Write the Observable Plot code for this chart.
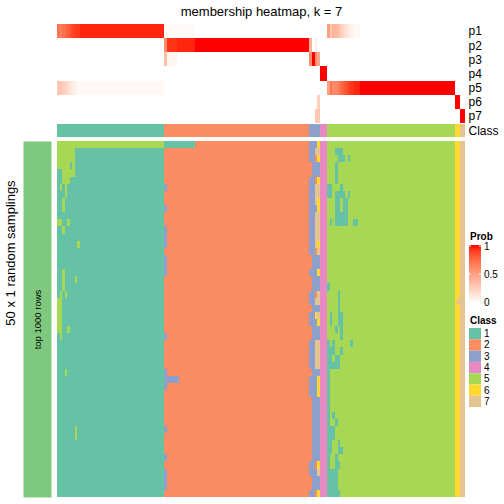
<!DOCTYPE html>
<html><head><meta charset="utf-8">
<script src="https://cdn.jsdelivr.net/npm/d3@7"></script>
<script src="https://cdn.jsdelivr.net/npm/@observablehq/plot@0.6"></script>
<style>
body{margin:0;background:#fff;}
#chart{position:relative;width:504px;height:504px;overflow:hidden;font-family:"Liberation Sans",Arial,Helvetica,sans-serif;background:#fff;}
</style></head><body><div id="chart"></div>
<script>
// ---------- data ----------
const title = "membership heatmap, k = 7";
const classLabels = [1, 2, 3, 4, 5, 6, 7];
const classColors = ["#66C2A5", "#FC8D62", "#8DA0CB", "#E78AC3", "#A6D854", "#FFD92F", "#E5C494"];
const classSizes = [42, 57, 4, 3, 50, 2, 2];           // columns per consensus class
const probRowNames = ["p1", "p2", "p3", "p4", "p5", "p6", "p7"];
// membership probability runs: [firstColumn, lastColumn, probability]
const p1Runs = [[0,0,0.7],[1,1,0.65],[2,2,0.72],[3,3,0.75],[4,4,0.8],[5,5,0.85],[6,6,0.88],[7,8,0.92],[9,41,0.96],
  [42,53,0.03],[106,106,0.5],[107,107,0.3],[108,108,0.4],[109,109,0.38],[110,110,0.33],[111,111,0.25],[112,112,0.2],
  [113,113,0.15],[114,114,0.1],[115,115,0.08],[116,116,0.05],[117,117,0.04],[118,118,0.03]];
const p2Runs = [[42,42,0.6],[43,46,0.93],[47,53,0.96],[54,98,1],[99,99,0.4],[101,101,0.1]];
const p3Runs = [[42,42,0.35],[43,46,0.05],[99,99,0.6],[100,100,1],[101,101,0.6],[102,102,0.45]];
const p4Runs = [[103,105,1]];
const p5Runs = [[0,0,0.3],[1,1,0.3],[2,2,0.25],[3,3,0.22],[4,4,0.18],[5,5,0.14],[6,6,0.1],[7,7,0.08],[8,41,0.04],
  [106,106,0.5],[107,107,0.7],[108,108,0.6],[109,109,0.62],[110,110,0.67],[111,111,0.75],[112,112,0.8],[113,113,0.85],
  [114,114,0.9],[115,115,0.92],[116,116,0.95],[117,117,0.96],[118,118,0.97],[119,155,1]];
const p6Runs = [[102,102,0.25],[156,157,1]];
const p7Runs = [[101,102,0.3],[158,159,1]];
const probTicks = [0, 0.5, 1];
// 50 random samplings: cells whose class differs from the consensus class: [row, firstColumn, lastColumn, class]
const nSamplings = 50;
const samplingDeviations = [
  [0,0,41,5],[0,42,53,1],[1,0,6,5],[2,0,6,5],[3,0,4,5],[3,6,6,5],[4,2,6,5],[5,2,4,5],[6,1,1,5],[6,3,3,5],
  [7,3,3,5],[8,2,2,5],[9,2,2,5],[11,0,1,5],[11,4,4,5],[12,2,2,5],[14,8,8,5],[18,2,2,5],[19,2,2,5],[19,7,7,5],
  [20,2,2,5],[21,1,1,5],[21,3,3,5],[22,0,1,5],[23,0,1,5],[24,0,1,5],[25,0,1,5],[26,0,1,5],[26,4,4,5],[27,1,1,5],
  [32,3,3,5],[40,7,7,5],[41,7,7,5],
  [6,42,42,3],[9,42,42,3],[12,42,42,3],[13,42,42,3],[14,42,42,3],[16,42,42,3],[17,42,42,3],[18,42,42,3],
  [27,42,42,3],[32,42,42,3],[33,42,47,3],[34,42,42,3],[40,42,42,3],[44,42,42,3],[46,42,42,3],[47,42,42,3],[48,42,42,3],
  [0,102,102,6],[1,101,102,7],[2,101,101,2],[2,102,102,6],[3,99,99,2],[4,99,99,2],[5,101,101,2],[5,102,102,6],
  [6,101,102,7],[7,101,102,7],[8,101,101,7],[8,102,102,6],[9,102,102,6],[10,101,102,7],[11,101,102,7],[12,101,102,7],
  [13,101,102,7],[14,101,101,7],[14,102,102,6],[15,101,101,2],[15,102,102,7],[16,99,99,2],[17,99,99,2],[18,102,102,6],
  [19,99,99,2],[20,99,99,2],[21,101,101,2],[21,102,102,7],[22,101,102,7],[23,99,99,2],[24,101,101,6],[24,102,102,7],
  [25,102,102,6],[26,99,99,2],[27,99,99,2],[28,101,102,7],[29,101,102,7],[30,101,102,7],[31,101,102,7],[32,99,99,2],
  [33,102,102,6],[34,102,102,6],[35,102,102,6],[36,99,99,2],[37,99,99,2],[38,99,99,2],[39,99,99,2],[40,99,99,2],
  [41,99,99,2],[42,99,99,2],[43,99,99,2],[44,99,99,2],[45,101,101,2],[45,102,102,6],[46,102,102,7],[47,99,99,2],
  [48,99,99,2],[49,101,101,2],[49,102,102,6],
  [1,109,111,1],[2,110,112,1],[2,114,114,1],[3,109,109,1],[4,109,109,1],[5,109,109,1],[6,106,107,1],[6,111,111,1],
  [7,106,107,1],[7,109,112,1],[7,114,114,1],[8,109,110,1],[8,112,113,1],[9,109,110,1],[9,112,113,1],[10,109,113,1],
  [11,107,107,1],[11,109,113,1],[11,116,117,1],[20,106,106,1],[21,110,110,1],[22,110,110,1],[23,110,110,1],
  [24,107,107,1],[24,110,111,1],[25,107,107,1],[25,110,111,1],[26,109,109,1],[26,111,111,1],[27,111,111,1],
  [28,106,106,1],[28,108,108,1],[28,115,115,1],[29,106,108,1],[29,111,111,1],[30,106,107,1],[30,109,110,1],
  [31,106,110,1],[32,106,106,1],[33,106,106,1],[34,106,106,1],[35,106,106,1],[36,106,106,1],[37,106,106,1],
  [38,106,106,1],[38,108,108,1],[39,106,106,1],[39,109,109,1],[40,106,108,1],[41,106,108,1],[42,106,107,1],
  [42,110,110,1],[43,106,107,1],[43,110,111,1],[44,106,106,1],[44,109,109,1],[45,106,106,1],[45,109,110,1],
  [46,106,109,1],[47,106,109,1],[48,106,109,1],[49,106,110,1],
  [22,157,157,7]
];
const sideLabel = "50 x 1 random samplings";
const barLabel = "top 1000 rows";
const barColor = "#7FC97F";
const probLegendTitle = "Prob";
const classLegendTitle = "Class";

// ---------- build tables ----------
const FONT = "'Liberation Sans', Arial, Helvetica, sans-serif";
const columnClass = classSizes.flatMap((n, i) => Array(n).fill(classLabels[i]));
const nCols = columnClass.length;
const colIndex = d3.range(nCols);
const probRuns = [p1Runs, p2Runs, p3Runs, p4Runs, p5Runs, p6Runs, p7Runs];
const probData = [];
probRowNames.forEach((name, i) => {
  const vals = new Array(nCols).fill(0);
  for (const [a, b, v] of probRuns[i]) for (let c = a; c <= b; c++) vals[c] = v;
  vals.forEach((v, c) => probData.push({row: name, col: c, value: v}));
});
const classData = columnClass.map((k, c) => ({row: "Class", col: c, cls: k}));
const matrix = d3.range(nSamplings).map(() => columnClass.slice());
for (const [r, a, b, k] of samplingDeviations) for (let c = a; c <= b; c++) matrix[r][c] = k;
const samplingData = [];
matrix.forEach((rowVals, r) => rowVals.forEach((k, c) => samplingData.push({row: r, col: c, cls: k})));

const probInterp = d3.interpolateLab("#FFFFFF", "#FF0000");
const baseStyle = {fontFamily: FONT, background: "transparent", overflow: "visible", shapeRendering: "crispEdges"};
const chart = document.getElementById("chart");
function place(node, left, top) {
  node.style.position = "absolute";
  node.style.left = left + "px";
  node.style.top = top + "px";
  node.style.maxWidth = "none";
  chart.appendChild(node);
}
const classColor = {type: "ordinal", domain: classLabels, range: classColors};

// title
place(Plot.plot({
  width: 408, height: 22, margin: 0, style: {fontFamily: FONT, background: "transparent", overflow: "visible"},
  marks: [Plot.text([title], {text: d => d, frameAnchor: "middle", fontSize: 13, fill: "black"})]
}), 57, 0);

// membership probability heatmap
place(Plot.plot({
  width: 447, height: 99, marginTop: 0, marginBottom: 0, marginLeft: 0, marginRight: 39,
  style: {...baseStyle, fontSize: "12px"},
  x: {type: "band", domain: colIndex, padding: 0, round: false, axis: null},
  y: {type: "band", domain: probRowNames, padding: 0, round: false},
  color: {type: "linear", domain: [0, 1], interpolate: probInterp},
  marks: [
    Plot.cell(probData, {x: "col", y: "row", fill: "value", inset: 0}),
    Plot.axisY({anchor: "right", tickSize: 0, tickPadding: 3, fontSize: 12, label: null, fill: "black"})
  ]
}), 57, 24);

// class annotation row
place(Plot.plot({
  width: 447, height: 13, marginTop: 0, marginBottom: 0, marginLeft: 0, marginRight: 39,
  style: {...baseStyle, fontSize: "12px"},
  x: {type: "band", domain: colIndex, padding: 0, round: false, axis: null},
  y: {type: "band", domain: ["Class"], padding: 0, round: false},
  color: classColor,
  marks: [
    Plot.cell(classData, {x: "col", y: "row", fill: "cls", inset: 0}),
    Plot.axisY({anchor: "right", tickSize: 0, tickPadding: 3, fontSize: 12, label: null, fill: "black"})
  ]
}), 57, 124);

// sampling heatmap
place(Plot.plot({
  width: 408, height: 356, margin: 0, style: baseStyle,
  x: {type: "band", domain: colIndex, padding: 0, round: false, axis: null},
  y: {type: "band", domain: d3.range(nSamplings), padding: 0, round: false, axis: null},
  color: classColor,
  marks: [Plot.cell(samplingData, {x: "col", y: "row", fill: "cls", inset: 0})]
}), 57, 141);

// left annotation bar
place(Plot.plot({
  width: 28, height: 356, margin: 0, style: {fontFamily: FONT, background: "transparent", overflow: "visible"},
  marks: [
    Plot.frame({fill: barColor, stroke: null}),
    Plot.text([barLabel], {text: d => d, frameAnchor: "middle", rotate: -90, fontSize: 9.5, fill: "black"})
  ]
}), 23, 141);

// side label
place(Plot.plot({
  width: 20, height: 505, margin: 0, style: {fontFamily: FONT, background: "transparent", overflow: "visible"},
  marks: [Plot.text([sideLabel], {text: d => d, frameAnchor: "middle", rotate: -90, fontSize: 13, fill: "black"})]
}), 0, 0);

// legends
const leg = d3.create("svg").attr("width", 44).attr("height", 200)
  .style("font-family", FONT).style("overflow", "visible");
const L = leg.append("g");
L.append("text").attr("x", 10).attr("y", 15).attr("font-size", 10).attr("font-weight", "bold").text(probLegendTitle);
const grad = leg.append("defs").append("linearGradient").attr("id", "probGrad")
  .attr("x1", 0).attr("y1", 1).attr("x2", 0).attr("y2", 0);
d3.range(0, 1.0001, 0.1).forEach(t => grad.append("stop").attr("offset", t).attr("stop-color", probInterp(t)));
const barTop = 20, barBottom = 78;
const yProb = d3.scaleLinear().domain([0, 1]).range([barBottom - 1, barTop + 1]);
L.append("rect").attr("x", 9).attr("y", barTop).attr("width", 12).attr("height", barBottom - barTop).attr("fill", "url(#probGrad)");
probTicks.forEach(t => {
  L.append("line").attr("x1", 9).attr("x2", 11).attr("y1", yProb(t)).attr("y2", yProb(t)).attr("stroke", "white");
  L.append("line").attr("x1", 19).attr("x2", 21).attr("y1", yProb(t)).attr("y2", yProb(t)).attr("stroke", "white");
  L.append("text").attr("x", 24).attr("y", yProb(t)).attr("dy", "0.35em").attr("font-size", 10).text(String(t));
});
L.append("text").attr("x", 10).attr("y", 99).attr("font-size", 10).attr("font-weight", "bold").text(classLegendTitle);
const sw = 11.3, swTop = 103;
classLabels.forEach((k, i) => {
  L.append("rect").attr("x", 9).attr("y", swTop + i * sw).attr("width", 12).attr("height", sw).attr("fill", classColors[i]);
  L.append("text").attr("x", 24).attr("y", swTop + i * sw + sw / 2).attr("dy", "0.35em").attr("font-size", 10).text(String(k));
});
place(leg.node(), 460, 225);
</script></body></html>
